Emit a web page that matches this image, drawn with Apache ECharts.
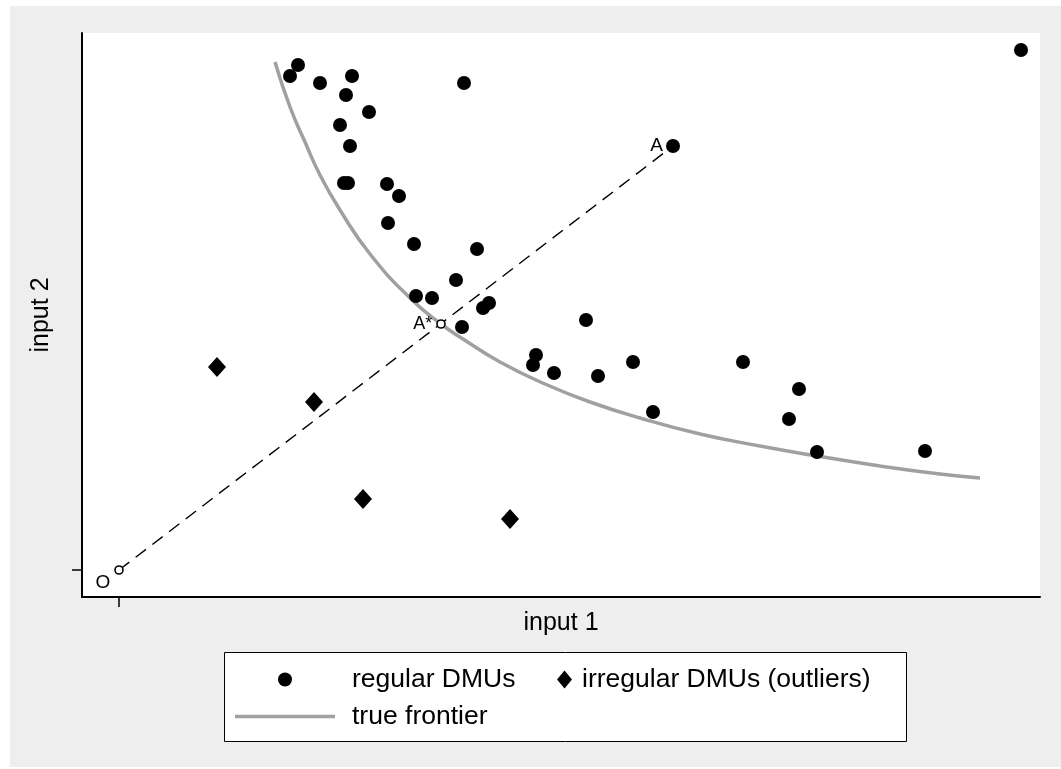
<!DOCTYPE html>
<html>
<head>
<meta charset="utf-8">
<script src="https://cdn.jsdelivr.net/npm/echarts@6/dist/echarts.min.js"></script>
<style>
  html, body { margin: 0; padding: 0; background: #ffffff; }
  #chart { position: absolute; left: 10px; top: 6px; width: 1051px; height: 761px; }
</style>
</head>
<body>
<div id="chart"></div>
<script>
// ---- data (units: input 1, input 2) ----
const regularX = [17.1, 17.9, 20.1, 23.3, 22.7, 25.0, 22.1, 23.1, 22.5, 22.9, 26.8, 28.0, 26.9, 29.5, 34.5, 35.8, 33.7, 29.7, 31.3, 37.0, 36.4, 34.3, 90.2, 46.7, 41.7, 41.4, 43.5, 47.9, 51.4, 53.4, 62.4, 68.0, 67.0, 69.8, 80.6];
const regularY = [49.4, 50.5, 48.7, 49.4, 47.5, 45.8, 44.5, 42.4, 38.7, 38.7, 38.6, 37.4, 34.7, 32.6, 48.7, 32.1, 29.0, 27.4, 27.2, 26.7, 26.2, 24.3, 52.0, 25.0, 21.5, 20.5, 19.7, 19.4, 20.8, 15.8, 20.8, 18.1, 15.1, 11.8, 11.9];
const pointA = [55.4, 42.4];
const outlierX = [9.8, 19.5, 24.4, 39.1];
const outlierY = [20.3, 16.8, 7.1, 5.1];
const frontierX = [15.6, 17.1, 18.6, 20.1, 22.1, 25.1, 29.1, 32.2, 34.4, 38.1, 42.6, 47.1, 52.1, 58.1, 64.1, 69.8, 76.1, 82.1, 86.1];
const frontierY = [50.8, 46.3, 42.8, 39.5, 36.0, 31.6, 27.2, 24.6, 23.1, 20.8, 18.6, 16.8, 15.2, 13.6, 12.4, 11.4, 10.4, 9.6, 9.2];
const pointO = [0, 0];
const pointAstar = [32.2, 24.6];
const labelO = 'O', labelA = 'A', labelAstar = 'A*';
const xTicks = [0];
const yTicks = [0];

const zip = (xs, ys) => xs.map((x, i) => [x, ys[i]]);
const FONT = '"Liberation Sans", Arial, Helvetica, sans-serif';

const chart = echarts.init(document.getElementById('chart'), null, { renderer: 'canvas' });

const regularData = zip(regularX, regularY);
regularData.push({
  value: pointA,
  label: { show: true, formatter: labelA, position: 'left', distance: 3, color: '#000', fontSize: 19, fontFamily: FONT }
});

const legendText = { fontSize: 26.5, lineHeight: 26, fontFamily: FONT, color: '#000' };

chart.setOption({
  backgroundColor: '#eeeeee',
  animation: false,
  grid: {
    left: 72, top: 27, width: 958, height: 564,
    show: true, backgroundColor: '#ffffff', borderWidth: 0
  },
  xAxis: {
    type: 'value', min: -3.7, max: 92.1,
    name: 'input 1', nameLocation: 'middle', nameGap: 14,
    nameTextStyle: { color: '#000', fontSize: 25, fontFamily: FONT, verticalAlign: 'top' },
    axisLine: { onZero: false, lineStyle: { color: '#000', width: 2 } },
    axisTick: { show: true, customValues: xTicks, length: 10, lineStyle: { color: '#000', width: 1.5 } },
    axisLabel: { show: false },
    splitLine: { show: false }
  },
  yAxis: {
    type: 'value', min: -2.7, max: 53.7,
    name: 'input 2', nameLocation: 'middle', nameGap: 28, nameRotate: 90,
    nameTextStyle: { color: '#000', fontSize: 25, fontFamily: FONT },
    axisLine: { onZero: false, lineStyle: { color: '#000', width: 2 } },
    axisTick: { show: true, customValues: yTicks, length: 10, lineStyle: { color: '#000', width: 1.5 } },
    axisLabel: { show: false },
    splitLine: { show: false }
  },
  graphic: [{
    type: 'rect', z: 1,
    shape: { x: 214.5, y: 646.5, width: 682, height: 89 },
    style: { fill: '#ffffff', stroke: '#000', lineWidth: 1 }
  }],
  legend: [
    {
      data: [{ name: 'regular DMUs', icon: 'circle' }], left: 268, top: 660, z: 10, padding: 0,
      itemWidth: 14, itemHeight: 14,
      textStyle: Object.assign({ padding: [0, 0, 0, 55] }, legendText)
    },
    {
      data: [{ name: 'irregular DMUs (outliers)', icon: 'diamond' }], left: 547, top: 660, z: 10, padding: 0,
      itemWidth: 15, itemHeight: 18,
      textStyle: Object.assign({ padding: [0, 0, 0, 5] }, legendText)
    },
    {
      data: [{ name: 'true frontier', icon: 'rect' }], left: 225, top: 697, z: 10, padding: 0,
      itemWidth: 100, itemHeight: 3.5,
      textStyle: Object.assign({ padding: [0, 0, 0, 12] }, legendText)
    }
  ],
  series: [
    {
      name: 'true frontier', type: 'line', data: zip(frontierX, frontierY),
      smooth: true, symbol: 'none', z: 2,
      lineStyle: { color: '#a0a0a0', width: 3.5 }, itemStyle: { color: '#a0a0a0' }
    },
    {
      name: 'ray', type: 'line', data: [pointO, pointA], symbol: 'none', z: 3,
      lineStyle: { color: '#000', width: 1.4, type: [13, 8] }
    },
    {
      name: 'regular DMUs', type: 'scatter', data: regularData,
      symbol: 'circle', symbolSize: 14, z: 4,
      itemStyle: { color: '#000', opacity: 1 }
    },
    {
      name: 'irregular DMUs (outliers)', type: 'scatter', data: zip(outlierX, outlierY),
      symbol: 'diamond', symbolSize: [18, 20], z: 4,
      itemStyle: { color: '#000', opacity: 1 }
    },
    {
      name: 'reference points', type: 'scatter', z: 5,
      data: [
        { value: pointO, label: { show: true, formatter: labelO, position: 'left', distance: 4, offset: [0, 13], color: '#000', fontSize: 19, fontFamily: FONT } },
        { value: pointAstar, label: { show: true, formatter: labelAstar, position: 'left', distance: 4, color: '#000', fontSize: 18, fontFamily: FONT } }
      ],
      symbol: 'circle', symbolSize: 8,
      itemStyle: { color: '#ffffff', borderColor: '#000', borderWidth: 1.6, opacity: 1 }
    }
  ]
});
</script>
</body>
</html>
